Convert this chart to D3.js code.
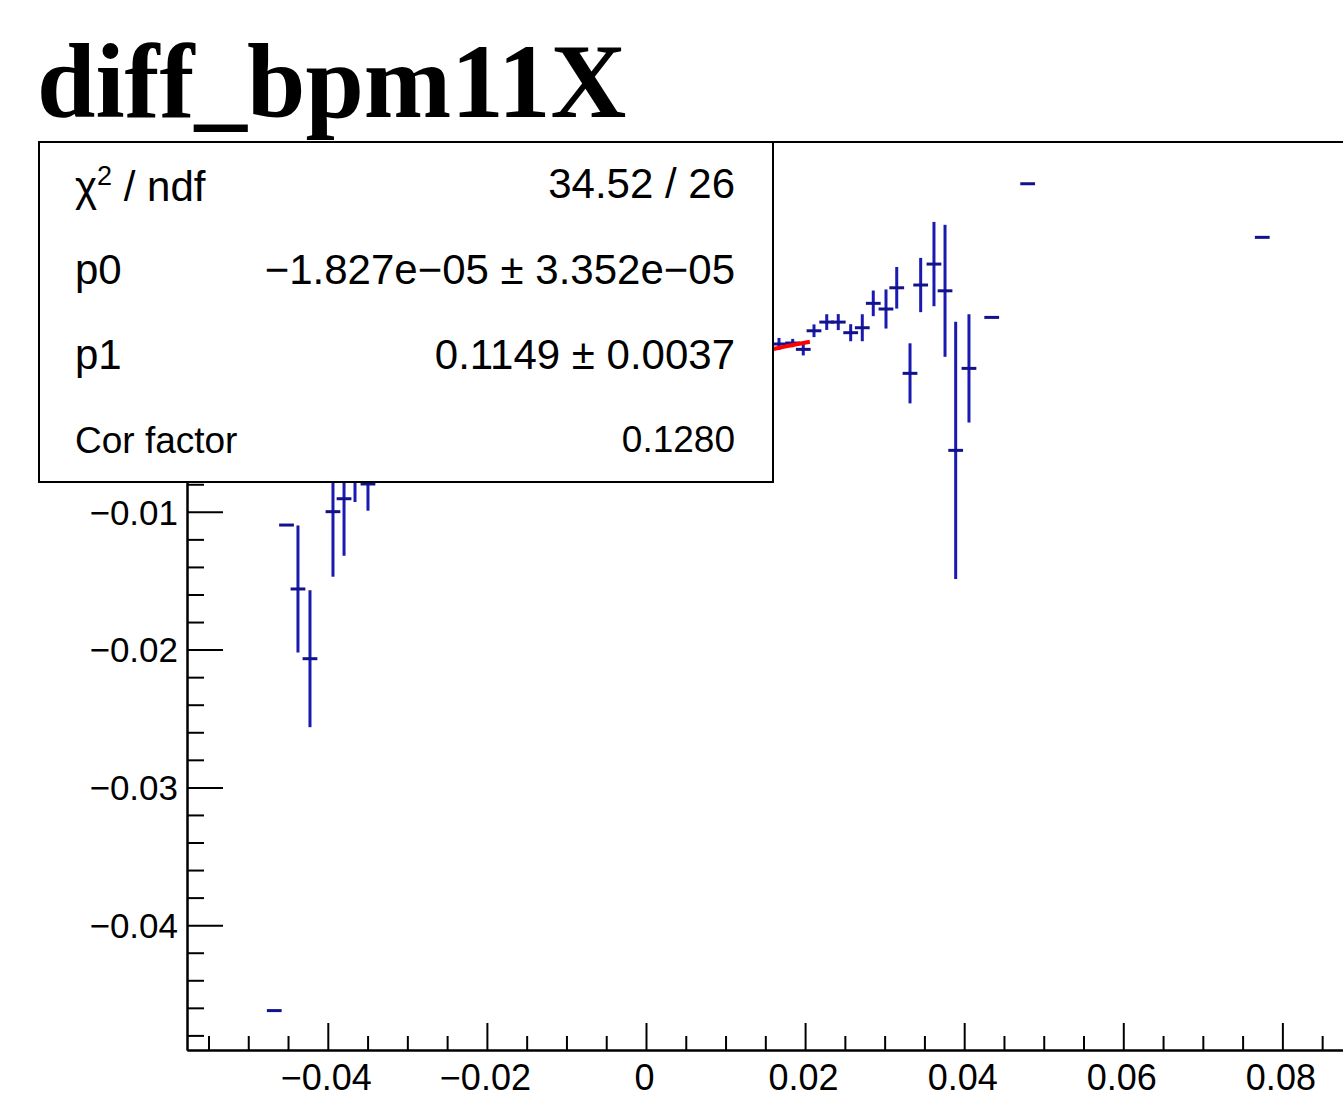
<!DOCTYPE html>
<html>
<head>
<meta charset="utf-8">
<script src="https://cdn.jsdelivr.net/npm/d3@7"></script>
<style>
  html, body { margin: 0; padding: 0; background: #fff; }
  svg { display: block; }
</style>
</head>
<body>
<svg id="chart" width="1343" height="1110"></svg>
<script>
// ---------- data ----------
const title = "diff_bpm11X";
// profile bin centres (x), mean values (y) and errors on the mean
const binX = [-0.04673, -0.04519, -0.04375, -0.04224, -0.03935, -0.03796, -0.03658, -0.03495,
              0.01672, 0.01844, 0.01977, 0.02112, 0.02272, 0.02417, 0.02573, 0.02719,
              0.02857, 0.03017, 0.03152, 0.03319, 0.03453, 0.03620, 0.03759, 0.03893,
              0.04060, 0.04346, 0.04798, 0.07747];
const binY = [-0.04620, -0.01096, -0.01560, -0.02066, -0.00999, -0.00905, -0.00697, -0.00798,
              0.00218, 0.00225, 0.00179, 0.00314, 0.00377, 0.00377, 0.00300, 0.00336,
              0.00513, 0.00472, 0.00626, 0.00005, 0.00646, 0.00798, 0.00604, -0.00554,
              0.00041, 0.00411, 0.01381, 0.00992];
const binErr = [0, 0, 0.00461, 0.00497, 0.00472, 0.00414, 0.00232, 0.00194,
                0.00044, 0.00030, 0.00044, 0.00046, 0.00057, 0.00058, 0.00062, 0.00098,
                0.00093, 0.00142, 0.00151, 0.00218, 0.00197, 0.00306, 0.00479, 0.00933,
                0.00393, 0, 0, 0];
const binWidth = 0.00148;
const xDomain = [-0.0577, 0.09026];
const yDomain = [-0.04906, 0.01684];
const xMajorTicks = [-0.04, -0.02, 0, 0.02, 0.04, 0.06, 0.08];
const xMinorStep = 0.005;
const yMajorTicks = [-0.04, -0.03, -0.02, -0.01, 0, 0.01];
const yMinorStep = 0.002;
// fit: pol1
const fitP0 = -1.827e-05;
const fitP1 = 0.1149;
const fitRange = [-0.0206, 0.0206];
// stats box
const statLabels = ["χ2 / ndf", "p0", "p1", "Cor factor"];
const statValues = ["34.52 / 26", "−1.827e−05 ± 3.352e−05", "0.1149 ± 0.0037", "0.1280"];

// ---------- drawing ----------
const svg = d3.select("#chart");
const frame = {left: 187, right: 1364, top: 142, bottom: 1050};
const x = d3.scaleLinear().domain(xDomain).range([frame.left, frame.right]);
const y = d3.scaleLinear().domain(yDomain).range([frame.bottom, frame.top]);
const fmt = v => (Math.abs(v) < 1e-12 ? "0" : d3.format("")(+v.toFixed(3)).replace("-", "−"));

const font = "'Liberation Sans', Arial, Helvetica, sans-serif";

// frame top and right
svg.append("line").attr("x1", frame.left).attr("x2", frame.right).attr("y1", frame.top).attr("y2", frame.top)
  .attr("stroke", "#000").attr("stroke-width", 2);
svg.append("line").attr("x1", frame.right).attr("x2", frame.right).attr("y1", frame.top).attr("y2", frame.bottom)
  .attr("stroke", "#000").attr("stroke-width", 2);

// minor ticks
function range(lo, hi, step) {
  const out = [];
  const n0 = Math.ceil(lo / step - 1e-9), n1 = Math.floor(hi / step + 1e-9);
  for (let n = n0; n <= n1; n++) out.push(+(n * step).toFixed(6));
  return out;
}
const xMinor = range(xDomain[0], xDomain[1], xMinorStep).filter(v => !xMajorTicks.some(m => Math.abs(m - v) < 1e-9));
const yMinor = range(yDomain[0], yDomain[1], yMinorStep).filter(v => !yMajorTicks.some(m => Math.abs(m - v) < 1e-9));

// x axis
const gx = svg.append("g").attr("transform", `translate(0,${frame.bottom})`);
gx.call(d3.axisBottom(x).tickValues(xMinor).tickSize(-14).tickSizeOuter(0).tickFormat(""));
gx.call(g => g.selectAll(".tick line").attr("stroke-width", 2));
const gx2 = svg.append("g").attr("transform", `translate(0,${frame.bottom})`);
gx2.call(d3.axisBottom(x).tickValues(xMajorTicks).tickSize(-27).tickSizeOuter(0).tickFormat(fmt));
gx2.selectAll(".tick line").attr("stroke-width", 2);
gx2.selectAll(".tick text").attr("y", 40).attr("dy", null).attr("dx", -2)
  .attr("font-family", font).attr("font-size", 36).attr("fill", "#000");
svg.selectAll(".domain").attr("stroke-width", 2);

// y axis
const gy = svg.append("g").attr("transform", `translate(${frame.left},0)`);
gy.call(d3.axisLeft(y).tickValues(yMinor).tickSize(-17).tickSizeOuter(0).tickFormat(""));
gy.selectAll(".tick line").attr("stroke-width", 2);
const gy2 = svg.append("g").attr("transform", `translate(${frame.left},0)`);
gy2.call(d3.axisLeft(y).tickValues(yMajorTicks).tickSize(-36).tickSizeOuter(0).tickPadding(9).tickFormat(fmt));
gy2.selectAll(".tick line").attr("stroke-width", 2);
gy2.selectAll(".tick text").attr("dy", "0.35em")
  .attr("font-family", font).attr("font-size", 35).attr("fill", "#000");
svg.selectAll(".domain").attr("stroke-width", 2).attr("stroke", "#000");

// data points
const pts = binX.map((v, i) => ({x: v, y: binY[i], e: binErr[i]}));
const gp = svg.append("g");
gp.selectAll("line.v").data(pts.filter(d => d.e > 0)).join("line").attr("class", "v")
  .attr("x1", d => x(d.x)).attr("x2", d => x(d.x))
  .attr("y1", d => y(d.y - d.e)).attr("y2", d => y(d.y + d.e))
  .attr("stroke", "#1a1ab0").attr("stroke-width", 3);
gp.selectAll("line.h").data(pts).join("line").attr("class", "h")
  .attr("x1", d => x(d.x - binWidth / 2)).attr("x2", d => x(d.x + binWidth / 2))
  .attr("y1", d => y(d.y)).attr("y2", d => y(d.y))
  .attr("stroke", "#12128a").attr("stroke-width", 3).attr("stroke-linecap", "square");

// fit line
const fitXs = d3.range(0, 51).map(i => fitRange[0] + (fitRange[1] - fitRange[0]) * i / 50);
svg.append("path").datum(fitXs)
  .attr("d", d3.line().x(d => x(d)).y(d => y(fitP0 + fitP1 * d)))
  .attr("fill", "none").attr("stroke", "#ff0000").attr("stroke-width", 4);

// stats box
const box = {x0: 39, y0: 142, x1: 773, y1: 482};
svg.append("rect").attr("x", box.x0).attr("y", box.y0)
  .attr("width", box.x1 - box.x0).attr("height", box.y1 - box.y0)
  .attr("fill", "#fff").attr("stroke", "#000").attr("stroke-width", 2);
const leftBase = [201, 284, 369, 453];
const rightBase = [198, 284, 369, 452];
const rowSize = [42, 42, 42, 37];
statLabels.forEach((lab, i) => {
  const t = svg.append("text").attr("x", 75).attr("y", leftBase[i])
    .attr("font-family", font).attr("font-size", rowSize[i]).attr("fill", "#000");
  if (lab.startsWith("χ2")) {
    t.append("tspan").text("χ");
    t.append("tspan").attr("font-size", 27).attr("dy", -16).text("2");
    t.append("tspan").attr("dy", 16).text(" / ndf");
  } else {
    t.text(lab);
  }
  svg.append("text").attr("x", 735).attr("y", rightBase[i]).attr("text-anchor", "end")
    .attr("font-family", font).attr("font-size", rowSize[i]).attr("fill", "#000").text(statValues[i]);
});

// title
svg.append("text").attr("x", 37).attr("y", 117)
  .attr("font-family", "'Liberation Serif', 'Times New Roman', serif")
  .attr("font-weight", "bold").attr("font-size", 105).attr("fill", "#000").text(title);
</script>
</body>
</html>
